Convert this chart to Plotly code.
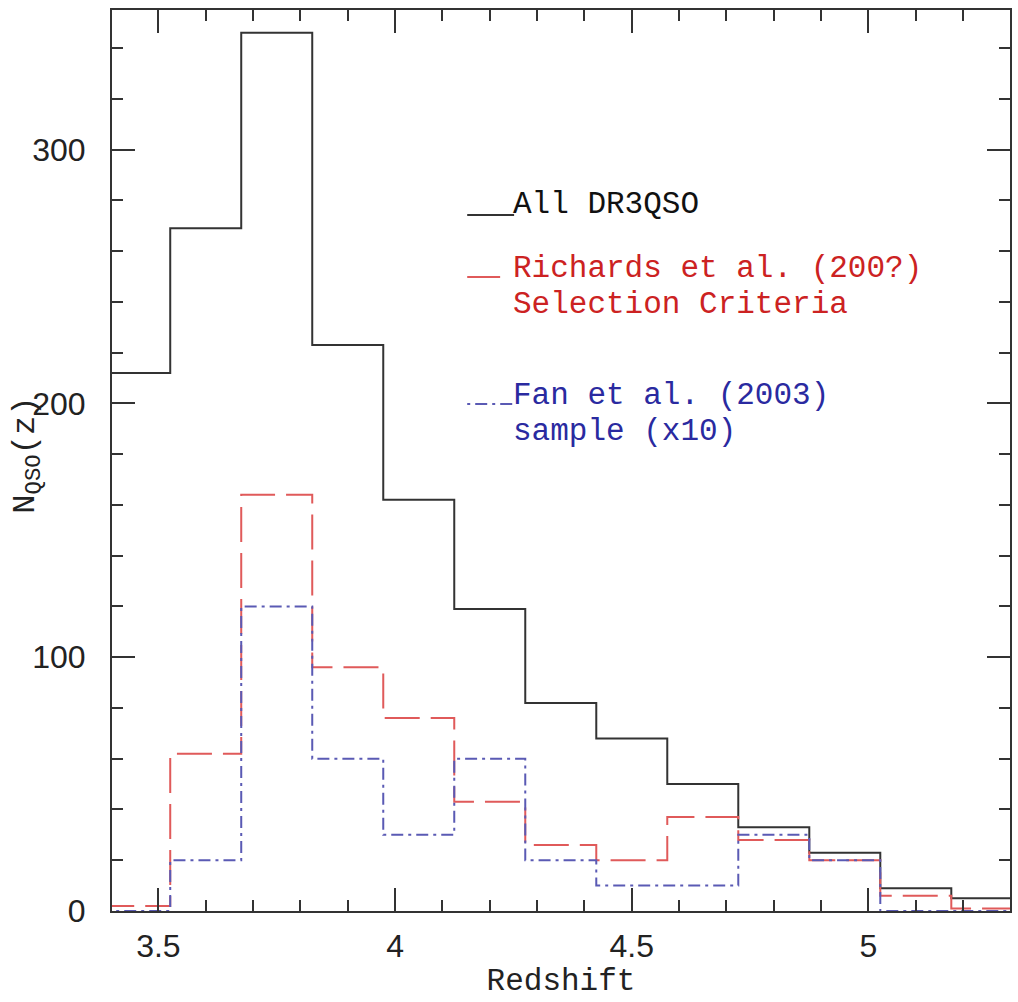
import plotly.graph_objects as go

# ---- data ----
bin_edges = [3.375, 3.525, 3.675, 3.825, 3.975, 4.125, 4.275, 4.425,
             4.575, 4.725, 4.875, 5.025, 5.175, 5.325]
all_dr3qso = [212, 269, 346, 223, 162, 119, 82, 68, 50, 33, 23, 9, 5]
richards = [2, 62, 164, 96, 76, 43, 26, 20, 37, 28, 20, 6, 1]
fan_x10 = [0, 20, 120, 60, 30, 60, 20, 10, 10, 30, 20, 0, 0]

x_ticks = [3.5, 4, 4.5, 5]
x_ticklabels = ["3.5", "4", "4.5", "5"]
y_ticks = [0, 100, 200, 300]
y_ticklabels = ["0", "100", "200", "300"]

BLACK = "#333333"
RED_LINE = "#e05a5a"
BLUE_LINE = "#5a5ab4"
RED_TXT = "#cc2222"
BLUE_TXT = "#2a2aa0"
MONO = "Liberation Mono"

W, H = 1018, 1002
L, R, T, B = 112, 6, 10, 91
PW, PH = W - L - R, H - T - B


def px(xp):
    return (xp - L) / PW


def py(yp):
    return (H - B - yp) / PH


def steps(vals):
    return vals + [vals[-1]]


fig = go.Figure()
fig.add_trace(go.Scatter(x=bin_edges, y=steps(all_dr3qso), mode="lines",
                         line=dict(shape="hv", color=BLACK, width=2)))
fig.add_trace(go.Scatter(x=bin_edges, y=steps(richards), mode="lines",
                         line=dict(shape="hv", color=RED_LINE, width=2, dash="35px,11px")))
fig.add_trace(go.Scatter(x=bin_edges, y=steps(fan_x10), mode="lines",
                         line=dict(shape="hv", color=BLUE_LINE, width=2, dash="12px,5px,3px,5px")))

axis_common = dict(
    showline=True, linecolor=BLACK, linewidth=2, mirror="allticks",
    ticks="inside", ticklen=23, tickwidth=2, tickcolor=BLACK,
    showgrid=False, zeroline=False,
    tickfont=dict(family="Liberation Sans", size=32, color="#222222"),
)

fig.update_xaxes(
    range=[3.402, 5.299], tickvals=x_ticks, ticktext=x_ticklabels,
    minor=dict(dtick=0.1, ticklen=11, tickwidth=2, tickcolor=BLACK, ticks="inside"),
    ticklabelstandoff=6,
    title=dict(text="Redshift", font=dict(family=MONO, size=31, color="#222222"), standoff=4),
    **axis_common,
)
fig.update_yaxes(
    range=[0, 355], tickvals=y_ticks, ticktext=y_ticklabels,
    minor=dict(dtick=20, ticklen=11, tickwidth=2, tickcolor=BLACK, ticks="inside"),
    ticklabelstandoff=18,
    **axis_common,
)

# legend-like labels
ann = []
def txt(t, x, y, color):
    ann.append(dict(text=t, x=px(x), y=py(y), xref="paper", yref="paper",
                    xanchor="left", yanchor="middle", showarrow=False,
                    font=dict(family=MONO, size=31, color=color)))

txt("All DR3QSO", 512, 205, "#111111")
txt("Richards et al. (200?)", 512, 268, RED_TXT)
txt("Selection Criteria", 512, 304, RED_TXT)
txt("Fan et al. (2003)", 512, 395, BLUE_TXT)
txt("sample (x10)", 512, 432, BLUE_TXT)

# y axis title
ann.append(dict(text="N<sub>QSO</sub>(z)", x=px(4), y=py(455), xref="paper", yref="paper",
                xanchor="left", yanchor="middle", showarrow=False, textangle=-90,
                font=dict(family=MONO, size=32, color="#222222")))

shapes = [
    dict(type="line", xref="paper", yref="paper", x0=px(468), x1=px(515), y0=py(215), y1=py(215),
         line=dict(color=BLACK, width=2)),
    dict(type="line", xref="paper", yref="paper", x0=px(468), x1=px(501), y0=py(277), y1=py(277),
         line=dict(color=RED_LINE, width=2)),
    dict(type="line", xref="paper", yref="paper", x0=px(468), x1=px(515), y0=py(404), y1=py(404),
         line=dict(color=BLUE_LINE, width=2, dash="3px,5px,12px,5px")),
]

fig.update_layout(
    width=W, height=H, autosize=False,
    margin=dict(l=L, r=R, t=T, b=B, pad=0),
    plot_bgcolor="white", paper_bgcolor="white",
    showlegend=False, annotations=ann, shapes=shapes,
)

fig.write_html("out.html")
